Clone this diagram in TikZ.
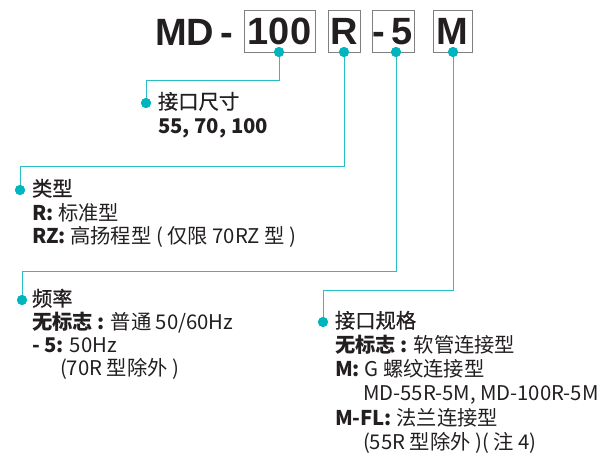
\documentclass[tikz,border=0pt]{standalone}
\usepackage{fontspec}
\setmainfont{Noto Sans CJK SC}
\newfontfamily\hdfont{Liberation Sans}
\newfontfamily\medfont[FakeBold=0.8]{Noto Sans CJK SC}
\definecolor{ink}{HTML}{231F20}
\definecolor{tealdot}{RGB}{0,181,190}
\definecolor{tealline}{RGB}{40,190,198}
\definecolor{boxgray}{RGB}{128,128,128}
\begin{document}
\begin{tikzpicture}[x=1pt,y=-1pt,
  every node/.style={inner sep=0pt,outer sep=0pt,text=ink},
  hd/.style={font=\hdfont\bfseries\fontsize{38}{40}\selectfont,text height=27pt,text depth=0pt},
  codebox/.style={hd,draw=boxgray,line width=0.9pt,minimum height=42pt},
  txt/.style={anchor=base west,font=\fontsize{20.3}{22}\selectfont},
  head/.style={txt,font=\medfont\fontsize{20.3}{22}\selectfont},
  dotc/.style={circle,fill=tealdot,minimum size=10pt},
  conn/.style={draw=tealline,line width=1pt}]
\useasboundingbox (0,0) rectangle (612,453);
% header
\node[hd,anchor=base west] (md) at (155,45) {MD\,-};
\node[codebox,minimum width=71pt] (b100) at (279.5,31) {100};
\node[codebox,minimum width=32pt] (bR) at (344,31) {R};
\node[codebox,minimum width=42pt] (b5) at (393,31) {-\,5};
\node[codebox,minimum width=39pt] (bM) at (452.5,31) {M};
% dots on boxes
\node[dotc] (d100) at (279,52) {};
\node[dotc] (dR) at (344,52) {};
\node[dotc] (d5) at (396,52) {};
\node[dotc] (dM) at (453,52) {};
% dots at labels
\node[dotc] (l1) at (146,103) {};
\node[dotc] (l2) at (20,190) {};
\node[dotc] (l3) at (22,300) {};
\node[dotc] (l4) at (323,322) {};
% connectors
\draw[conn] (d100.center) -- (d100.center |- 0,80) -| (l1.center);
\draw[conn] (dR.center) -- (dR.center |- 0,166) -| (l2.center);
\draw[conn] (d5.center) -- (d5.center |- 0,271) -| (l3.center);
\draw[conn] (dM.center) -- (dM.center |- 0,290) -| (l4.center);
% redraw dots on top
\foreach \n in {d100,dR,d5,dM,l1,l2,l3,l4} \fill[tealdot] (\n.center) circle (5pt);
% texts
\node[head] (t1) at (158,109) {接口尺寸};
\node[txt] (t1a) at (158,133) {\textbf{55, 70, 100}};
\node[head] (t2) at (32,196) {类型};
\node[txt] (t2a) at (32,220) {\textbf{R:} 标准型};
\node[txt] (t2b) at (32,243) {\textbf{RZ:} 高扬程型 ( 仅限 70RZ 型 )};
\node[head] (t3) at (32,306) {频率};
\node[txt] (t3a) at (32,329) {\textbf{无标志 :} 普通 50/60Hz};
\node[txt] (t3b) at (32,352) {\textbf{- 5:} 50Hz};
\node[txt] (t3c) at (60,375) {(70R 型除外 )};
\node[head] (t4) at (335,328) {接口规格};
\node[txt] (t4a) at (335,352) {\textbf{无标志 :} 软管连接型};
\node[txt] (t4b) at (335,376) {\textbf{M:} G 螺纹连接型};
\node[txt] (t4c) at (363,400) {MD-55R-5M, MD-100R-5M};
\node[txt] (t4d) at (335,425) {\textbf{M-FL:} 法兰连接型};
\node[txt] (t4e) at (363,449) {(55R 型除外 )( 注 4)};
\end{tikzpicture}
\end{document}
